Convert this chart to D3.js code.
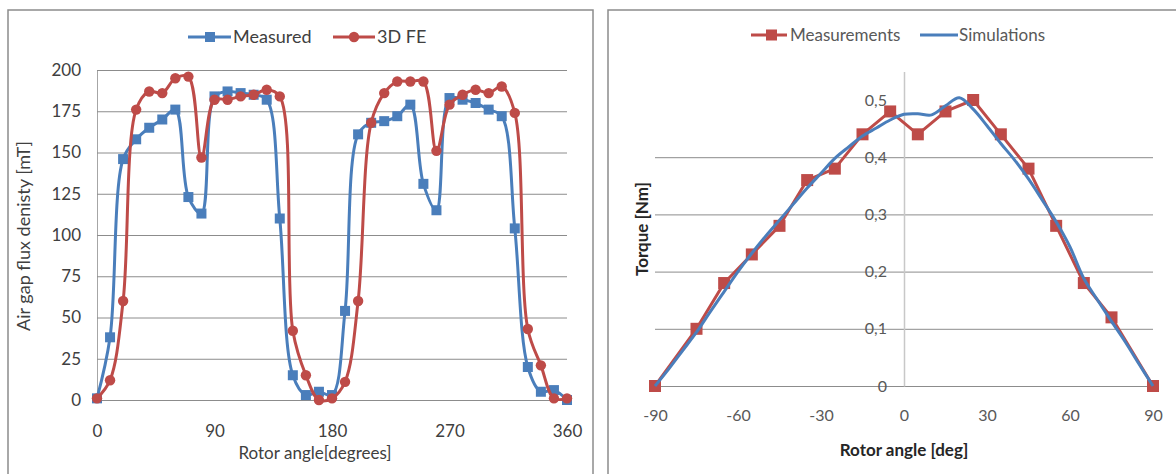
<!DOCTYPE html>
<html>
<head>
<meta charset="utf-8">
<script src="https://cdn.jsdelivr.net/npm/d3@7"></script>
<style>
  body { margin: 0; background: #fff; }
  svg { display: block; font-family: Lato, "Open Sans", sans-serif; }
</style>
</head>
<body>
<div id="chart"></div>
<script>
// left chart: air gap flux density vs rotor angle
var rotorAngle = [0, 10, 20, 30, 40, 50, 60, 70, 80, 90, 100, 110, 120, 130, 140, 150, 160, 170, 180,
    190, 200, 210, 220, 230, 240, 250, 260, 270, 280, 290, 300, 310, 320, 330, 340, 350, 360];
var measured = [1, 38, 146, 158, 165, 170, 176, 123, 113, 184, 187, 186, 185, 182, 110, 15, 3, 5, 3,
    54, 161, 168, 169, 172, 179, 131, 115, 183, 182, 180, 176, 172, 104, 20, 5, 6, 0];
var fe3d = [1, 12, 60, 176, 187, 186, 195, 196, 147, 182, 182, 184, 185, 188, 184, 42, 15, 0, 1,
    11, 60, 168, 186, 193, 193, 193, 151, 179, 185, 188, 186, 190, 174, 43, 21, 1, 1];
var fluxTicks = [0, 25, 50, 75, 100, 125, 150, 175, 200];
var angleTicks = [0, 90, 180, 270, 360];

// right chart: torque vs rotor angle
var measAngle = [-90, -75, -65, -55, -45, -35, -25, -15, -5, 5, 15, 25, 35, 45, 55, 65, 75, 90];
var measTorque = [0, 0.10, 0.18, 0.23, 0.28, 0.36, 0.38, 0.44, 0.48, 0.44, 0.48, 0.50, 0.44, 0.38, 0.28, 0.18, 0.12, 0];
var simAngle = [-90, -85, -80, -75, -70, -65, -60, -55, -50, -45, -40, -35, -30, -25, -20, -15, -10, -5, 0,
    5, 10, 15, 20, 25, 30, 35, 40, 45, 50, 55, 60, 65, 70, 75, 80, 85, 90];
var simTorque = [0, 0.03, 0.062, 0.094, 0.13, 0.165, 0.2, 0.232, 0.262, 0.29, 0.318, 0.346, 0.372, 0.398, 0.418, 0.437, 0.451, 0.465, 0.475,
    0.476, 0.474, 0.49, 0.504, 0.484, 0.455, 0.424, 0.395, 0.362, 0.325, 0.287, 0.243, 0.188, 0.15, 0.113, 0.077, 0.038, 0];
var torqueGrid = [0, 0.1, 0.2, 0.3, 0.4];
var torqueTicks = [0, 0.1, 0.2, 0.3, 0.4, 0.5];
var degTicks = [-90, -60, -30, 0, 30, 60, 90];

var blue = "#4a7ebb", red = "#be4b48";

var svg = d3.select("#chart")
    .append("svg")
    .attr("width", 1176)
    .attr("height", 474);

svg.append("rect").attr("width", 1176).attr("height", 474).attr("fill", "#fff");

// panel frames
svg.append("rect").attr("x", 8).attr("y", 10).attr("width", 585).attr("height", 480)
    .attr("fill", "none").attr("stroke", "#8c8c8c").attr("stroke-width", 1.5);
svg.append("rect").attr("x", 608).attr("y", 10).attr("width", 600).attr("height", 480)
    .attr("fill", "none").attr("stroke", "#8c8c8c").attr("stroke-width", 1.5);

// ---------- left chart ----------
var xL = d3.scaleLinear().domain([0, 360]).range([97, 567]);
var yL = d3.scaleLinear().domain([0, 200]).range([400, 70]);

var gridL = svg.append("g")
    .attr("transform", "translate(97,0)")
    .call(d3.axisLeft(yL).tickValues(fluxTicks).tickSize(-470).tickSizeOuter(0).tickPadding(16));
gridL.select(".domain").attr("stroke", "#a6a6a6");
gridL.selectAll(".tick line").attr("stroke", "#8c8c8c");
gridL.selectAll("text").attr("fill", "#404040").style("font-size", "17px").style("font-family", "Lato");

var axL = svg.append("g")
    .attr("transform", "translate(0,400)")
    .call(d3.axisBottom(xL).tickValues(angleTicks).tickSize(0).tickPadding(25));
axL.select(".domain").remove();
axL.selectAll("text").attr("fill", "#404040").style("font-size", "17px").style("font-family", "Lato");

svg.append("text").attr("x", 315).attr("y", 459).attr("text-anchor", "middle")
    .attr("fill", "#404040").style("font-size", "17px").text("Rotor angle[degrees]");
svg.append("text").attr("transform", "translate(30,236) rotate(-90)").attr("text-anchor", "middle")
    .attr("fill", "#404040").style("font-size", "18px").text("Air gap flux denisty [mT]");

var smooth = d3.line()
    .x(function (d) { return xL(d[0]); })
    .y(function (d) { return yL(d[1]); })
    .curve(d3.curveCatmullRom.alpha(0.5));

var measPts = rotorAngle.map(function (a, i) { return [a, measured[i]]; });
var fePts = rotorAngle.map(function (a, i) { return [a, fe3d[i]]; });

svg.append("path").datum(measPts).attr("d", smooth)
    .attr("fill", "none").attr("stroke", blue).attr("stroke-width", 3);
svg.append("g").selectAll("rect").data(measPts).enter().append("rect")
    .attr("x", function (d) { return xL(d[0]) - 5; })
    .attr("y", function (d) { return yL(d[1]) - 5; })
    .attr("width", 10).attr("height", 10).attr("fill", blue);

svg.append("path").datum(fePts).attr("d", smooth)
    .attr("fill", "none").attr("stroke", red).attr("stroke-width", 3);
svg.append("g").selectAll("circle").data(fePts).enter().append("circle")
    .attr("cx", function (d) { return xL(d[0]); })
    .attr("cy", function (d) { return yL(d[1]); })
    .attr("r", 5.2).attr("fill", red);

// legend left
var legL = svg.append("g").style("font-size", "18px").attr("fill", "#404040");
legL.append("line").attr("x1", 188).attr("x2", 231).attr("y1", 37).attr("y2", 37)
    .attr("stroke", blue).attr("stroke-width", 3);
legL.append("rect").attr("x", 205).attr("y", 32).attr("width", 10).attr("height", 10).attr("fill", blue);
legL.append("text").attr("x", 233).attr("y", 43).text("Measured");
legL.append("line").attr("x1", 333).attr("x2", 375).attr("y1", 37).attr("y2", 37)
    .attr("stroke", red).attr("stroke-width", 3);
legL.append("circle").attr("cx", 354).attr("cy", 37).attr("r", 5.2).attr("fill", red);
legL.append("text").attr("x", 377).attr("y", 43).text("3D FE");

// ---------- right chart ----------
var xR = d3.scaleLinear().domain([-90, 90]).range([655, 1153]);
var yR = d3.scaleLinear().domain([0, 0.55]).range([386, 71.4]);

var gridR = svg.append("g")
    .attr("transform", "translate(655,0)")
    .call(d3.axisLeft(yR).tickValues(torqueGrid).tickSize(-498).tickFormat(""));
gridR.select(".domain").remove();
gridR.selectAll(".tick line").attr("stroke", "#8c8c8c");

var ayR = svg.append("g")
    .attr("transform", "translate(904,0)")
    .call(d3.axisLeft(yR).tickValues(torqueTicks).tickSize(0).tickSizeOuter(0).tickPadding(17)
        .tickFormat(function (d) { return d === 0 ? "0" : d.toFixed(1).replace(".", ","); }));
ayR.select(".domain").attr("stroke", "#c8c8c8").attr("stroke-width", 1.5);
ayR.selectAll("text").attr("fill", "#595959").style("font-size", "16px").style("font-family", "Lato");

var axR = svg.append("g")
    .attr("transform", "translate(0,386)")
    .call(d3.axisBottom(xR).tickValues(degTicks).tickSize(0).tickPadding(24)
        .tickFormat(function (d) { return String(d); }));
axR.select(".domain").remove();
axR.selectAll("text").attr("fill", "#595959").style("font-size", "16px").style("font-family", "Lato");

svg.append("text").attr("x", 904).attr("y", 456).attr("text-anchor", "middle")
    .attr("fill", "#262626").style("font-size", "17px").style("font-weight", "bold").text("Rotor angle [deg]");
svg.append("text").attr("transform", "translate(648,229) rotate(-90)").attr("text-anchor", "middle")
    .attr("fill", "#262626").style("font-size", "17px").style("font-weight", "bold").text("Torque [Nm]");

var measRPts = measAngle.map(function (a, i) { return [a, measTorque[i]]; });
var simPts = simAngle.map(function (a, i) { return [a, simTorque[i]]; });

var straightR = d3.line()
    .x(function (d) { return xR(d[0]); })
    .y(function (d) { return yR(d[1]); });
var smoothR = d3.line()
    .x(function (d) { return xR(d[0]); })
    .y(function (d) { return yR(d[1]); })
    .curve(d3.curveCatmullRom.alpha(0.5));

svg.append("path").datum(measRPts).attr("d", straightR)
    .attr("fill", "none").attr("stroke", red).attr("stroke-width", 3).attr("stroke-linejoin", "round");
svg.append("g").selectAll("rect").data(measRPts).enter().append("rect")
    .attr("x", function (d) { return xR(d[0]) - 6; })
    .attr("y", function (d) { return yR(d[1]) - 6; })
    .attr("width", 12).attr("height", 12).attr("fill", red);

svg.append("path").datum(simPts).attr("d", smoothR)
    .attr("fill", "none").attr("stroke", blue).attr("stroke-width", 3);

// legend right
var legR = svg.append("g").style("font-size", "17px").attr("fill", "#595959");
legR.append("line").attr("x1", 751).attr("x2", 787).attr("y1", 35).attr("y2", 35)
    .attr("stroke", red).attr("stroke-width", 3);
legR.append("rect").attr("x", 766).attr("y", 29.5).attr("width", 11).attr("height", 11).attr("fill", red);
legR.append("text").attr("x", 790).attr("y", 41).text("Measurements");
legR.append("line").attr("x1", 920).attr("x2", 958).attr("y1", 35).attr("y2", 35)
    .attr("stroke", blue).attr("stroke-width", 3);
legR.append("text").attr("x", 959).attr("y", 41).text("Simulations");
</script>
</body>
</html>
